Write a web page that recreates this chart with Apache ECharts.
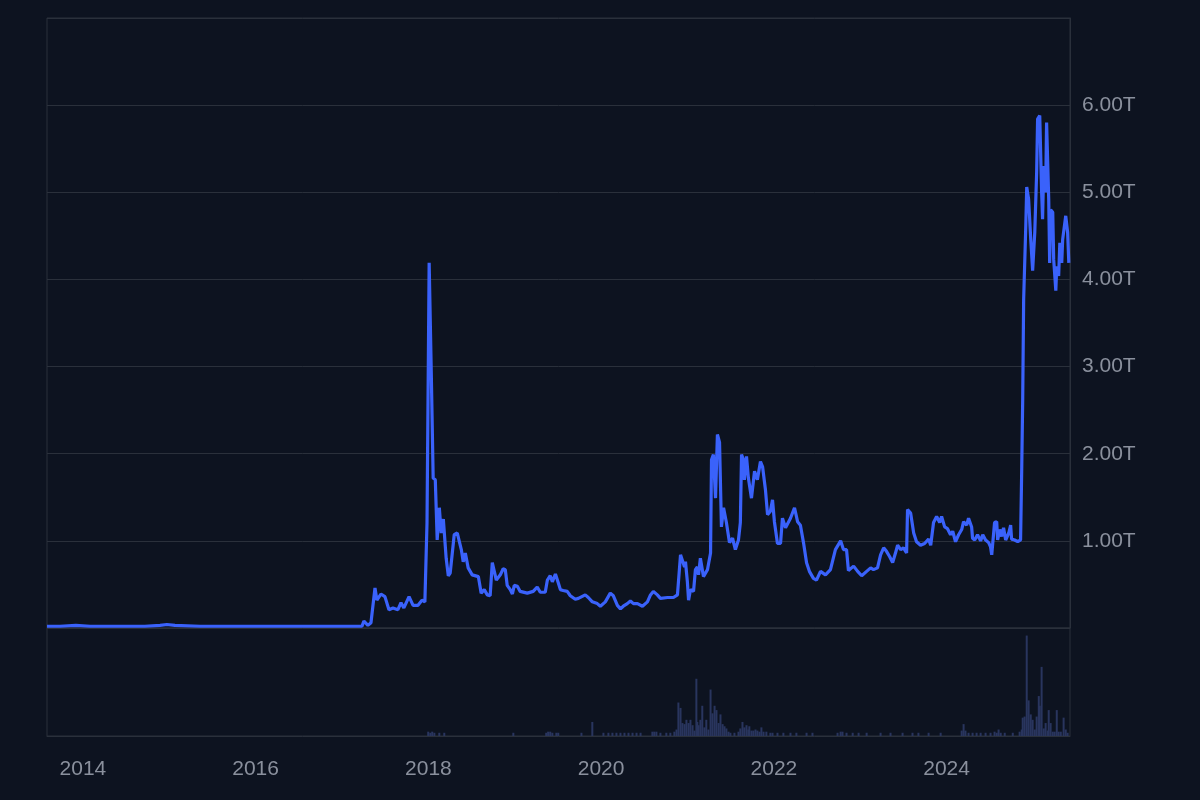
<!DOCTYPE html>
<html>
<head>
<meta charset="utf-8">
<script src="https://cdn.jsdelivr.net/npm/echarts@6/dist/echarts.min.js"></script>
<style>
html,body{margin:0;padding:0;background:#0d1320;}
#chart{width:1200px;height:800px;}
</style>
</head>
<body>
<div id="chart"></div>
<script>
// Market cap (trillions)
const capDates = [
'2013-08-02','2013-09-26','2013-12-02','2014-01-31','2014-06-06','2014-09-20','2014-11-23','2014-12-22','2015-01-25','2015-05-11','2015-09-15','2016-02-09','2016-07-06','2016-11-10','2017-02-24','2017-03-26',
'2017-04-03','2017-04-20','2017-05-03','2017-05-20','2017-05-28','2017-06-14','2017-07-01','2017-07-18','2017-08-04','2017-08-25','2017-09-07','2017-09-19','2017-10-11','2017-10-28','2017-11-18','2017-12-05','2017-12-17','2017-12-26',
'2018-01-04','2018-01-13','2018-01-21','2018-01-30','2018-02-07','2018-02-16','2018-02-24','2018-03-05','2018-03-17','2018-03-26','2018-04-03','2018-04-20','2018-05-03','2018-05-20','2018-05-28','2018-06-06','2018-06-18','2018-07-05','2018-07-31','2018-08-12','2018-08-25','2018-09-07','2018-09-19','2018-09-28','2018-10-06','2018-10-15','2018-11-01','2018-11-13','2018-11-22','2018-11-30','2018-12-13','2018-12-22','2018-12-30',
'2019-01-12','2019-01-24','2019-02-23','2019-03-20','2019-04-06','2019-04-19','2019-05-10','2019-05-19','2019-05-31','2019-06-09','2019-06-22','2019-07-04','2019-07-13','2019-07-25','2019-08-11','2019-08-24','2019-09-14','2019-09-27','2019-10-05','2019-10-26','2019-11-08','2019-11-25','2019-12-16','2019-12-29',
'2020-01-19','2020-02-09','2020-02-22','2020-03-10','2020-03-23','2020-04-04','2020-04-21','2020-05-04','2020-05-17','2020-06-03','2020-06-24','2020-07-15','2020-07-28','2020-08-09','2020-08-26','2020-09-08','2020-10-08','2020-11-02','2020-11-19','2020-12-02','2020-12-10','2020-12-19','2020-12-23','2020-12-31',
'2021-01-05','2021-01-13','2021-01-26','2021-02-03','2021-02-11','2021-02-16','2021-02-24','2021-03-09','2021-03-26','2021-04-08','2021-04-12','2021-04-20','2021-04-29','2021-05-07','2021-05-16','2021-05-24','2021-06-02','2021-06-14','2021-06-27','2021-07-10','2021-07-22','2021-08-04','2021-08-12','2021-08-17','2021-08-25','2021-08-29','2021-09-07','2021-09-15','2021-09-28','2021-10-11','2021-10-23','2021-11-05','2021-11-14','2021-11-26','2021-12-05','2021-12-17','2021-12-26',
'2022-01-03','2022-01-16','2022-01-29','2022-02-06','2022-02-19','2022-02-27','2022-03-12','2022-03-29','2022-04-11','2022-04-23','2022-05-06','2022-05-19','2022-05-31','2022-06-17','2022-06-30','2022-07-17','2022-08-07','2022-08-28','2022-09-18','2022-10-10','2022-10-22','2022-11-04','2022-11-12','2022-12-04','2022-12-21',
'2023-01-07','2023-01-28','2023-02-14','2023-02-26','2023-03-15','2023-03-28','2023-04-10','2023-04-22','2023-05-05','2023-05-18','2023-05-30','2023-06-08','2023-06-21','2023-07-03','2023-07-16','2023-07-20','2023-08-02','2023-08-15','2023-08-27','2023-09-13','2023-09-30','2023-10-17','2023-10-26','2023-11-07','2023-11-20','2023-12-03','2023-12-11','2023-12-24',
'2024-01-05','2024-01-18','2024-01-27','2024-02-08','2024-02-21','2024-03-05','2024-03-13','2024-03-26','2024-04-03','2024-04-16','2024-04-20','2024-04-29','2024-05-11','2024-05-24','2024-06-02','2024-06-14','2024-06-27','2024-07-05','2024-07-10','2024-07-22','2024-07-31','2024-08-04','2024-08-13','2024-08-21','2024-08-29','2024-09-07','2024-09-20','2024-09-28','2024-10-02','2024-10-15','2024-10-28','2024-11-05','2024-11-09','2024-11-14','2024-11-18','2024-11-22','2024-12-01','2024-12-05','2024-12-13','2024-12-22','2024-12-30',
'2025-01-08','2025-01-16','2025-01-20','2025-01-29','2025-02-06','2025-02-10','2025-02-15','2025-02-23','2025-02-27','2025-03-08','2025-03-12','2025-03-16','2025-03-25','2025-03-29','2025-04-07','2025-04-11','2025-04-19','2025-04-24','2025-05-02','2025-05-06','2025-05-19','2025-05-27','2025-06-01'
];
const capValues = [
0.02,0.02,0.03,0.02,0.02,0.02,0.03,0.04,0.03,0.02,0.02,0.02,0.02,0.02,0.02,0.02,
0.08,0.03,0.06,0.46,0.32,0.39,0.36,0.21,0.23,0.21,0.29,0.23,0.36,0.26,0.26,0.32,0.30,1.21,
4.19,2.93,1.72,1.70,1.01,1.38,1.09,1.25,0.80,0.60,0.63,1.07,1.09,0.90,0.76,0.86,0.69,0.61,0.59,0.40,0.44,0.38,0.37,0.75,0.75,0.55,0.61,0.68,0.67,0.49,0.44,0.39,0.49,
0.48,0.42,0.40,0.42,0.47,0.41,0.41,0.55,0.60,0.53,0.62,0.52,0.44,0.43,0.42,0.37,0.33,0.34,0.32,0.38,0.35,0.30,0.28,0.25,
0.30,0.40,0.37,0.26,0.22,0.25,0.28,0.31,0.28,0.28,0.25,0.30,0.38,0.42,0.38,0.34,0.35,0.35,0.38,0.84,0.86,0.70,0.76,0.53,
0.32,0.44,0.42,0.67,0.70,0.61,0.80,0.59,0.67,0.86,1.93,1.99,1.49,2.22,2.13,1.16,1.38,1.21,0.98,1.03,0.90,1.01,1.21,1.99,1.93,1.70,1.97,1.72,1.49,1.80,1.70,1.91,1.85,1.59,1.30,1.34,1.47,
1.22,0.97,0.97,1.26,1.15,1.13,1.26,1.38,1.22,1.18,0.98,0.75,0.65,0.57,0.55,0.65,0.61,0.67,0.90,1.00,0.90,0.90,0.66,0.71,0.65,
0.60,0.65,0.69,0.67,0.69,0.84,0.92,0.88,0.82,0.75,0.86,0.95,0.90,0.92,0.86,1.36,1.32,1.09,0.99,0.95,0.97,1.02,0.95,1.21,1.28,1.21,1.28,1.16,
1.14,1.07,1.11,0.99,1.07,1.13,1.22,1.18,1.26,1.16,1.03,1.01,1.07,1.00,1.07,1.01,0.98,0.93,0.84,1.21,1.22,1.01,1.13,1.05,1.15,1.01,1.09,1.18,1.02,1.01,0.99,0.97,1.01,1.85,2.62,3.77,4.61,5.06,4.92,4.46,4.10,
4.54,5.23,5.84,5.88,5.00,4.69,5.30,5.00,5.80,4.92,4.19,4.80,4.77,4.23,3.87,4.15,4.04,4.42,4.19,4.46,4.73,4.54,4.19
];

// Volume (relative units)
const volDates = [
'2017-12-31','2018-01-09','2018-01-17','2018-01-26','2018-02-16','2018-03-09','2018-12-26',
'2019-05-14','2019-05-22','2019-05-31','2019-06-09','2019-06-26','2019-07-04','2019-10-10','2019-11-25',
'2020-01-11','2020-02-01','2020-02-18','2020-03-06','2020-03-23','2020-04-09','2020-04-26','2020-05-13','2020-05-30','2020-06-16','2020-08-05','2020-08-13','2020-08-22','2020-09-08','2020-10-03','2020-10-20','2020-11-06','2020-11-15','2020-11-23','2020-12-02','2020-12-10','2020-12-19','2020-12-27',
'2021-01-05','2021-01-13','2021-01-22','2021-01-30','2021-02-07','2021-02-11','2021-02-16','2021-02-24','2021-03-04','2021-03-13','2021-03-21','2021-03-30','2021-04-08','2021-04-16','2021-04-25','2021-05-03','2021-05-12','2021-05-20','2021-05-29','2021-06-06','2021-06-14','2021-06-23','2021-07-01','2021-07-18','2021-08-04','2021-08-12','2021-08-21','2021-08-29','2021-09-07','2021-09-15','2021-09-19','2021-09-28','2021-10-06','2021-10-15','2021-10-23','2021-11-01','2021-11-09','2021-11-18','2021-11-30','2021-12-17','2021-12-26',
'2022-01-16','2022-02-10','2022-03-12','2022-04-06','2022-05-19','2022-06-13','2022-09-27','2022-10-10','2022-10-18','2022-11-04','2022-11-30','2022-12-25',
'2023-01-28','2023-03-28','2023-05-09','2023-06-29','2023-08-10','2023-09-04','2023-10-17','2023-12-07',
'2024-03-05','2024-03-13','2024-03-21','2024-04-03','2024-04-20','2024-05-07','2024-05-24','2024-06-14','2024-07-05','2024-07-22','2024-07-31','2024-08-08','2024-08-17','2024-09-03','2024-10-07','2024-11-05','2024-11-14','2024-11-18','2024-11-26','2024-12-05','2024-12-13','2024-12-22','2024-12-30',
'2025-01-08','2025-01-16','2025-01-25','2025-01-29','2025-02-06','2025-02-15','2025-02-23','2025-03-04','2025-03-08','2025-03-16','2025-03-25','2025-04-02','2025-04-11','2025-04-19','2025-04-28','2025-05-10','2025-05-19','2025-05-27'
];
const volValues = [
4,3,4,3,3,3,3,
3,4,4,3,3,3,3,13,
3,3,3,3,3,3,3,3,3,3,4,4,4,3,3,3,4,6,31,26,12,11,15,
12,15,10,5,53,13,10,15,28,8,15,6,43,21,28,24,12,20,11,9,7,4,3,3,4,7,13,8,10,6,9,5,5,6,5,4,8,4,4,3,3,
3,3,3,3,3,3,3,4,4,3,3,3,
3,3,3,3,3,3,3,3,
5,11,5,3,3,3,3,3,3,4,3,6,3,3,3,4,6,17,18,93,33,20,15,
6,18,37,28,64,7,12,5,24,12,4,4,24,4,4,17,6,3
];

const yearTicks = ['2014','2016','2018','2020','2022','2024'];
const capTicksMax = 7;

const axisMin = '2013-08-02';
const axisMax = '2025-06-06';

const ts = d => +new Date(d + 'T00:00:00Z');
const capData = capDates.map((d, i) => [ts(d), capValues[i]]);
const volData = volDates.map((d, i) => [ts(d), volValues[i]]);
const yearTickTimes = yearTicks.map(y => ts(y + '-01-01'));

const labelColor = '#8a909d';
const lineCol = '#2a303b';
const fontFam = '"Liberation Sans", Arial, Helvetica, sans-serif';

const chart = echarts.init(document.getElementById('chart'), null, {renderer: 'canvas'});
chart.setOption({
  backgroundColor: '#0d1320',
  animation: false,
  grid: [
    {left: 47, right: 130, top: 18, height: 610, show: true, borderColor: lineCol, borderWidth: 1},
    {left: 47, right: 130, top: 628, height: 108, show: true, borderColor: lineCol, borderWidth: 1}
  ],
  xAxis: [
    {type: 'value', gridIndex: 0, min: ts(axisMin), max: ts(axisMax), scale: true,
     axisLine: {show: false}, axisTick: {show: false}, axisLabel: {show: false}, splitLine: {show: false}},
    {type: 'value', gridIndex: 1, min: ts(axisMin), max: ts(axisMax), scale: true,
     axisLine: {show: true, onZero: false, lineStyle: {color: lineCol}}, axisTick: {show: false},
     splitLine: {show: false},
     axisLabel: {show: true, customValues: yearTickTimes, color: labelColor, fontSize: 21, fontFamily: fontFam, margin: 23,
       hideOverlap: false,
       formatter: v => String(new Date(v).getUTCFullYear())}}
  ],
  yAxis: [
    {type: 'value', gridIndex: 0, position: 'right', min: 0, max: capTicksMax, interval: 1,
     axisLine: {show: true, lineStyle: {color: lineCol}}, axisTick: {show: false},
     splitLine: {show: true, lineStyle: {color: lineCol, width: 1}},
     axisLabel: {color: labelColor, fontSize: 21, fontFamily: fontFam, margin: 12, padding: [4, 0, 0, 0],
       formatter: v => (v === 0 || v === capTicksMax) ? '' : v.toFixed(2) + 'T'}},
    {type: 'value', gridIndex: 1, position: 'right', min: 0, max: 100,
     axisLine: {show: false}, axisTick: {show: false}, axisLabel: {show: false}, splitLine: {show: false}}
  ],
  series: [
    {type: 'line', xAxisIndex: 0, yAxisIndex: 0, data: capData, showSymbol: false, symbol: 'none',
     lineStyle: {color: '#3a62fb', width: 3.2}, z: 5},
    {type: 'bar', xAxisIndex: 1, yAxisIndex: 1, data: volData, barWidth: 2,
     itemStyle: {color: '#29355e'}}
  ]
});
</script>
</body>
</html>
